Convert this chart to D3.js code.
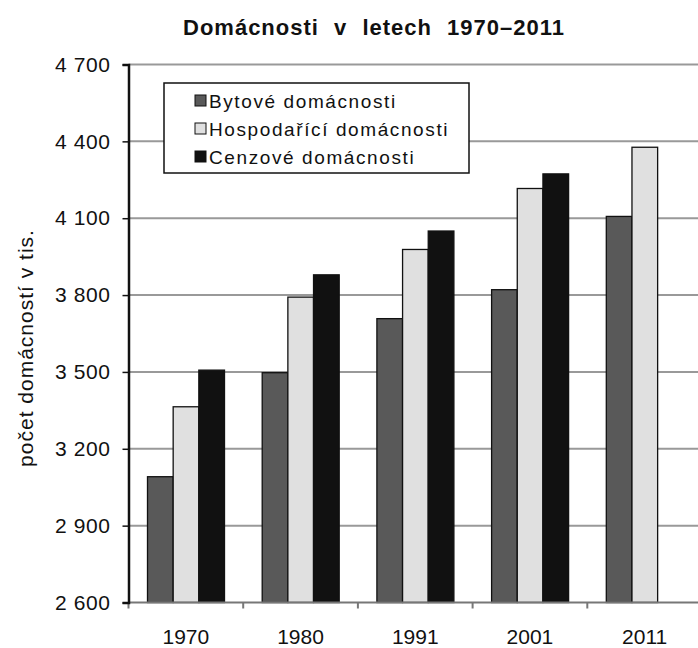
<!DOCTYPE html>
<html>
<head>
<meta charset="utf-8">
<script src="https://cdn.jsdelivr.net/npm/d3@7"></script>
<style>
  body { margin: 0; background: #fff; }
  svg { display: block; font-family: "Liberation Sans", Arial, sans-serif; }
</style>
</head>
<body>
<div id="Chart"></div>
<script>
const years = ["1970", "1980", "1991", "2001", "2011"];
const seriesNames = ["Bytové domácnosti", "Hospodařící domácnosti", "Cenzové domácnosti"];
const bytove =      [3091, 3497, 3708, 3821, 4107];
const hospodarici = [3364, 3792, 3978, 4216, 4377];
const cenzove =     [3507, 3879, 4050, 4273, null];
const yTicks = [2600, 2900, 3200, 3500, 3800, 4100, 4400, 4700];
const seriesColors = ["#595959", "#e0e0e0", "#111111"];

const W = 698, H = 648;
const plot = {left: 128.5, right: 702, top: 64.5, bottom: 602.5};

const svg = d3.select("#Chart").append("svg")
  .attr("width", W).attr("height", H);

const x0 = d3.scaleBand().domain(years).range([plot.left, plot.right]);
const x1 = d3.scaleBand().domain(seriesNames).range([19, 96]);
const y = d3.scaleLinear().domain([2600, 4700]).range([plot.bottom, plot.top]);

// gridlines
svg.append("g").selectAll("line").data(yTicks.slice(1)).join("line")
  .attr("x1", plot.left).attr("x2", W)
  .attr("y1", d => y(d)).attr("y2", d => y(d))
  .attr("stroke", "#999").attr("stroke-width", 2);

// bars
const rows = years.map((yr, i) => ({year: yr, values: [bytove[i], hospodarici[i], cenzove[i]]}));
svg.append("g").selectAll("g").data(rows).join("g")
  .attr("transform", d => `translate(${x0(d.year)} 0)`)
  .selectAll("rect")
  .data(d => d.values.map((v, j) => ({name: seriesNames[j], v, j})).filter(o => o.v != null))
  .join("rect")
    .attr("x", d => x1(d.name))
    .attr("y", d => y(d.v))
    .attr("width", x1.bandwidth())
    .attr("height", d => plot.bottom - y(d.v))
    .attr("fill", d => seriesColors[d.j])
    .attr("stroke", "#111").attr("stroke-width", 1.3);

// x axis
const xAxis = svg.append("g");
xAxis.append("line")
  .attr("x1", plot.left).attr("x2", W)
  .attr("y1", plot.bottom).attr("y2", plot.bottom)
  .attr("stroke", "#777").attr("stroke-width", 2);
xAxis.selectAll("line.tick").data(years).join("line")
  .attr("class", "tick")
  .attr("x1", d => x0(d)).attr("x2", d => x0(d))
  .attr("y1", plot.bottom).attr("y2", plot.bottom + 6)
  .attr("stroke", "#777").attr("stroke-width", 2);
xAxis.selectAll("text").data(years).join("text")
  .attr("x", d => x0(d) + x0.bandwidth() / 2)
  .attr("y", 644)
  .attr("text-anchor", "middle")
  .attr("font-size", 21)
  .attr("fill", "#111")
  .text(d => d);

// y axis
const yAxis = svg.append("g")
  .attr("transform", `translate(${plot.left} 0)`)
  .call(d3.axisLeft(y).tickValues(yTicks).tickSize(6).tickPadding(12)
    .tickFormat(d => d3.format(",")(d).replace(",", " ")));
yAxis.select(".domain").attr("stroke", "#111").attr("stroke-width", 2.5);
yAxis.selectAll(".tick line").attr("stroke", "#111").attr("stroke-width", 1.5);
yAxis.selectAll(".tick text")
  .attr("font-size", 21).attr("fill", "#111")
  .attr("letter-spacing", 0.6)
  .attr("font-family", "Liberation Sans, Arial, sans-serif");

// y title
svg.append("text")
  .attr("transform", "translate(33 348) rotate(-90)")
  .attr("text-anchor", "middle")
  .attr("font-size", 21)
  .attr("letter-spacing", 1)
  .attr("fill", "#111")
  .text("počet domácností v tis.");

// title
svg.append("text")
  .attr("x", 374).attr("y", 35)
  .attr("text-anchor", "middle")
  .attr("font-size", 22)
  .attr("font-weight", "bold")
  .attr("letter-spacing", 1)
  .attr("word-spacing", 8)
  .attr("fill", "#111")
  .text("Domácnosti v letech 1970–2011");

// legend
const legend = svg.append("g");
legend.append("rect")
  .attr("x", 164).attr("y", 83).attr("width", 305).attr("height", 90)
  .attr("fill", "#fff").attr("stroke", "#111").attr("stroke-width", 1.5);
const item = legend.selectAll("g.item").data(seriesNames).join("g")
  .attr("class", "item")
  .attr("transform", (d, i) => `translate(195 ${101 + i * 28})`);
item.append("rect")
  .attr("x", 0).attr("y", -6).attr("width", 11).attr("height", 11)
  .attr("fill", (d, i) => seriesColors[i])
  .attr("stroke", "#111").attr("stroke-width", 1);
item.append("text")
  .attr("x", 14).attr("y", 7)
  .attr("font-size", 19)
  .attr("letter-spacing", 1.6)
  .attr("fill", "#111")
  .text(d => d);
</script>
</body>
</html>
